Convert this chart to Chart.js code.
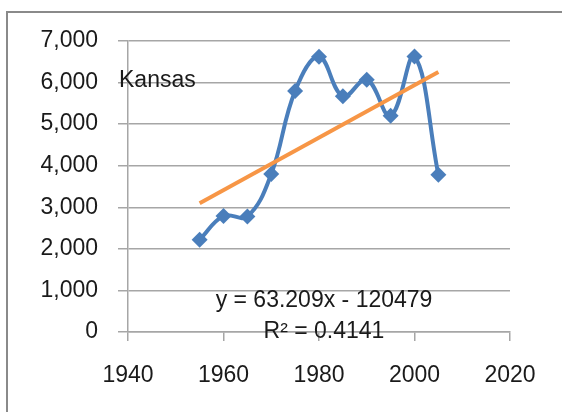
<!DOCTYPE html>
<html>
<head>
<meta charset="utf-8">
<script src="https://cdn.jsdelivr.net/npm/chart.js@4.4.1/dist/chart.umd.min.js"></script>
<style>
  html, body { margin: 0; padding: 0; background: #ffffff; }
  #wrap { width: 562px; height: 412px; position: relative; }
</style>
</head>
<body>
<div id="wrap"><canvas id="c" width="562" height="412"></canvas></div>
<script>
// ---- data ----
const years = [1955, 1960, 1965, 1970, 1975, 1980, 1985, 1990, 1995, 2000, 2005];
const kansasValues = [2220, 2790, 2780, 3800, 5800, 6620, 5670, 6070, 5200, 6630, 3780];
const xTickValues = [1940, 1960, 1980, 2000, 2020];
const yTickValues = [0, 1000, 2000, 3000, 4000, 5000, 6000, 7000];
const seriesLabel = "Kansas";
const trendSlope = 63.209;
const trendIntercept = -120479;
const trendYears = [1955, 2005];
const equationText = "y = 63.209x - 120479";
const r2Text = "R\u00B2 = 0.4141";

const trendValues = trendYears.map(x => trendSlope * x + trendIntercept);

const FONT = "'Liberation Sans', Arial, sans-serif";
const FSIZE = 23;
const GRID = '#a6a6a6';
const TEXT = '#1a1a1a';

const decorPlugin = {
  id: 'decor',
  beforeDraw(chart) {
    const ctx = chart.ctx;
    ctx.save();
    ctx.fillStyle = '#ffffff';
    ctx.fillRect(0, 0, chart.width, chart.height);
    ctx.strokeStyle = '#8a8a8a';
    ctx.lineWidth = 2;
    ctx.strokeRect(7, 12, 700, 600);
    ctx.restore();
  },
  afterDraw(chart) {
    const ctx = chart.ctx;
    ctx.save();
    ctx.fillStyle = TEXT;
    ctx.font = FSIZE + 'px ' + FONT;
    ctx.textBaseline = 'alphabetic';
    ctx.textAlign = 'left';
    ctx.fillText(seriesLabel, 119, 87);
    ctx.textAlign = 'center';
    ctx.fillText(equationText, 324, 307);
    ctx.fillText(r2Text, 324, 338);
    ctx.restore();
  }
};

new Chart(document.getElementById('c'), {
  type: 'line',
  data: {
    datasets: [
      {
        label: 'Linear trend',
        data: trendYears.map((x, i) => ({ x: x, y: trendValues[i] })),
        borderColor: '#f79646',
        borderWidth: 4,
        pointRadius: 0,
        tension: 0,
        order: 0
      },
      {
        label: seriesLabel,
        data: years.map((x, i) => ({ x: x, y: kansasValues[i] })),
        borderColor: '#4a7ebb',
        backgroundColor: '#4a7ebb',
        borderWidth: 4,
        pointStyle: 'rectRot',
        pointRadius: 8,
        pointBorderWidth: 0,
        pointBackgroundColor: '#4a7ebb',
        tension: 0.4,
        order: 1
      }
    ]
  },
  options: {
    responsive: false,
    animation: false,
    devicePixelRatio: 1,
    layout: { padding: { left: 0, right: 52, top: 41, bottom: 0 } },
    plugins: { legend: { display: false }, tooltip: { enabled: false }, title: { display: false } },
    scales: {
      x: {
        type: 'linear',
        min: 1940, max: 2020,
        afterBuildTicks(scale) { scale.ticks = xTickValues.map(v => ({ value: v })); },
        afterFit(scale) { scale.height = 80; },
        ticks: {
          color: TEXT,
          font: { family: FONT, size: FSIZE },
          padding: 21,
          maxRotation: 0,
          callback: v => String(v)
        },
        grid: { drawOnChartArea: false, drawTicks: true, tickLength: 9, color: GRID, tickColor: GRID, lineWidth: 1.5 },
        border: { display: true, color: GRID, width: 1.5 }
      },
      y: {
        min: 0, max: 7000,
        afterBuildTicks(scale) { scale.ticks = yTickValues.map(v => ({ value: v })); },
        afterFit(scale) { scale.width = 128; },
        ticks: {
          color: TEXT,
          font: { family: FONT, size: FSIZE },
          padding: 20,
          callback: v => Number(v).toLocaleString('en-US')
        },
        grid: { drawOnChartArea: true, drawTicks: true, tickLength: 10, color: GRID, tickColor: GRID, lineWidth: 1.5 },
        border: { display: true, color: GRID, width: 1.5 }
      }
    }
  },
  plugins: [decorPlugin]
});
</script>
</body>
</html>
